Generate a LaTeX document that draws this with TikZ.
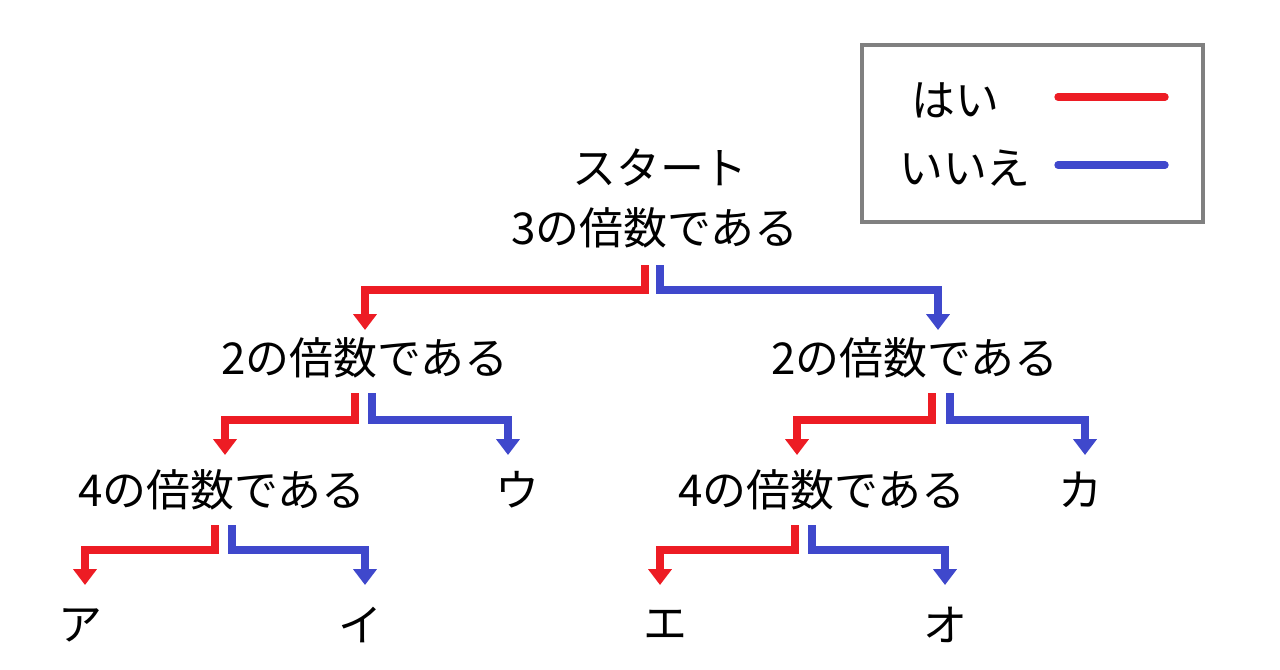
\documentclass[tikz,border=0pt]{standalone}
\usepackage{fontspec}
\setmainfont{Noto Sans CJK JP}
\usetikzlibrary{arrows.meta,calc}
\definecolor{yescol}{RGB}{237,28,36}
\definecolor{nocol}{RGB}{63,72,204}
\tikzset{
  lbl/.style={inner sep=0pt,font=\fontsize{25}{28}\selectfont},
  yes/.style={draw=yescol,line width=4.2pt,-{Triangle[width=13pt,length=9pt]}},
  no/.style={draw=nocol,line width=4.2pt,-{Triangle[width=13pt,length=9pt]}},
}
\begin{document}
\begin{tikzpicture}[x=0.02cm,y=-0.02cm]
\useasboundingbox (0,0) rectangle (1280,669);
\node[lbl] (t) at (660,168) {スタート};
\node[lbl] (s) at (655,228) {3の倍数である};
\node[lbl] (a) at (365,358) {2の倍数である};
\node[lbl] (b) at (915,358) {2の倍数である};
\node[lbl] (c) at (222,490) {4の倍数である};
\node[lbl] (u) at (517,490) {ウ};
\node[lbl] (d) at (822,490) {4の倍数である};
\node[lbl] (k) at (1080,490) {カ};
\node[lbl] (ka) at (80,625) {ア};
\node[lbl] (ki) at (360,625) {イ};
\node[lbl] (ke) at (665,625) {エ};
\node[lbl] (ko) at (945,625) {オ};
% branches
\draw[yes] (645,265) -- (645,290) -| (365,330);
\draw[no] (660,265) -- (660,290) -| (938,330);
\draw[yes] (355,393) -- (355,420) -| (225,455);
\draw[no] (372,393) -- (372,420) -| (508,455);
\draw[yes] (932,393) -- (932,420) -| (797,455);
\draw[no] (950,393) -- (950,420) -| (1085,455);
\draw[yes] (215,525) -- (215,550) -| (85,585);
\draw[no] (232,525) -- (232,550) -| (365,585);
\draw[yes] (795,525) -- (795,550) -| (660,585);
\draw[no] (812,525) -- (812,550) -| (945,585);
% legend
\draw[draw={rgb,255:red,128;green,128;blue,128},line width=2.2pt] (862,45) rectangle (1203,222);
\node[lbl] (lh) at (955,100) {はい};
\node[lbl] (li) at (965,168) {いいえ};
\coordinate (r1) at (1058,97); \coordinate (r2) at (1165,97);
\coordinate (b1) at (1058,165); \coordinate (b2) at (1165,165);
\draw[draw=yescol,line width=4.2pt,line cap=round] (r1) -- (r2);
\draw[draw=nocol,line width=4.2pt,line cap=round] (b1) -- (b2);
\end{tikzpicture}
\end{document}
